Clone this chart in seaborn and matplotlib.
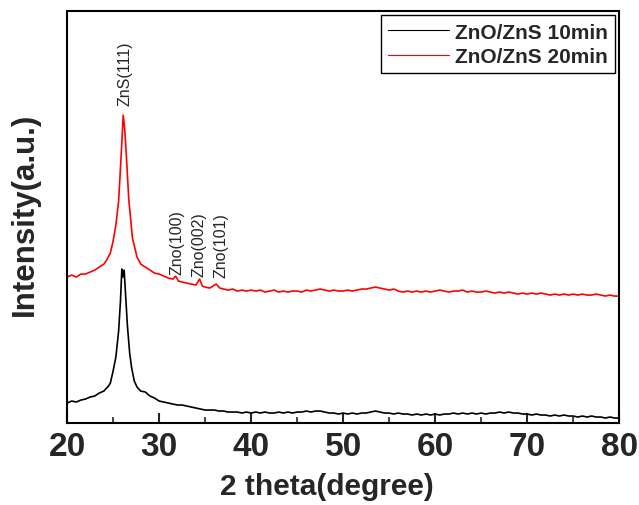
import numpy as np
import pandas as pd
import matplotlib
matplotlib.use("Agg")
import matplotlib.pyplot as plt
import seaborn as sns
from matplotlib.ticker import MultipleLocator

# ---------------- data ----------------
series_names = ["ZnO/ZnS 10min", "ZnO/ZnS 20min"]
series_colors = ["black", "red"]

tail_theta = [40, 40.5, 41, 41.5, 42, 42.5, 43, 43.5, 44, 44.5, 45, 45.5, 46, 46.5, 47, 47.5,
              48, 48.5, 49, 49.5, 50, 50.5, 51, 51.5, 52, 52.5, 53, 53.5, 54, 54.5, 55, 55.5,
              56, 56.5, 57, 57.5, 58, 58.5, 59, 59.5, 60, 60.5, 61, 61.5, 62, 62.5, 63, 63.5,
              64, 64.5, 65, 65.5, 66, 66.5, 67, 67.5, 68, 68.5, 69, 69.5, 70, 70.5, 71, 71.5,
              72, 72.5, 73, 73.5, 74, 74.5, 75, 75.5, 76, 76.5, 77, 77.5, 78, 78.5, 79, 79.5, 80]

theta_10 = [20, 20.5, 21, 21.5, 22, 22.5, 23, 23.5, 24, 24.5, 24.7, 25.0, 25.3, 25.6, 25.8,
            25.95, 26.05, 26.2, 26.35, 26.55, 26.8, 27.0, 27.3, 27.6,
            28, 28.5, 29, 29.5, 30, 30.5, 31, 31.5, 32, 32.5, 33, 33.5, 34, 34.5, 35, 35.5,
            36, 36.5, 37, 37.5, 38, 38.5, 39, 39.5] + tail_theta
int_10 = [20, 22, 21, 23, 24, 26, 27, 30, 32, 37, 40, 52, 66, 92, 122,
          154, 146, 153, 130, 98, 70, 56, 42, 36,
          32, 31, 27, 25, 22, 21, 20, 19, 18, 18, 17, 16, 15, 14, 13, 13,
          13, 12, 12, 11, 11, 11, 10, 11,
          10, 11, 10, 11, 10, 10, 11, 10, 11, 10, 11, 11, 12, 11, 12, 12,
          11, 10, 10, 9, 10, 9, 10, 9, 10, 10, 11, 12, 11, 10, 10, 9,
          10, 9, 9, 8, 9, 8, 9, 8, 9, 8, 9, 9, 10, 9, 10, 9,
          10, 9, 10, 9, 10, 10, 11, 10, 11, 10, 10, 9, 9, 8, 9, 8,
          8, 7, 8, 7, 8, 7, 7, 6, 7, 6, 7, 6, 6, 5, 6, 5, 5]

theta_20 = [20, 20.5, 21, 21.5, 22, 22.5, 23, 23.5, 24, 24.3, 24.7, 25.0, 25.3, 25.6, 25.9,
            26.1, 26.25, 26.4, 26.7, 27.1, 27.6,
            28, 28.5, 29, 29.5, 30, 30.5, 31, 31.5, 31.8, 32.1, 32.5, 33, 33.5, 34, 34.4,
            34.7, 35, 35.5, 36.2, 36.6, 37, 37.5, 38, 38.5, 39, 39.5] + tail_theta
int_20 = [146, 148, 146, 149, 149, 151, 153, 156, 159, 163, 170, 182, 198, 222, 272,
          308, 295, 274, 224, 185, 166,
          159, 156, 153, 150, 149, 147, 145, 144, 147, 142, 141, 140, 139, 138, 144,
          137, 136, 135, 139, 135, 134, 133, 134, 132, 133, 132,
          133, 132, 133, 131, 132, 133, 131, 132, 131, 132, 132, 131, 133, 132, 133, 134,
          133, 132, 133, 132, 132, 133, 132, 133, 134, 134, 135, 136, 135, 134, 133, 134,
          132, 131, 132, 131, 132, 131, 132, 131, 132, 133, 132, 131, 132, 132, 133, 131,
          132, 131, 131, 132, 131, 130, 131, 130, 131, 130, 129, 130, 129, 130, 129, 130,
          129, 128, 129, 128, 129, 128, 129, 128, 129, 128, 128, 129, 128, 127, 128, 127, 127]

peak_labels = ["ZnS(111)", "Zno(100)", "Zno(002)", "Zno(101)"]
peak_theta = [26.3, 31.9, 34.3, 36.7]
peak_label_base = [318, 149, 147, 146]

x_ticks = [20, 30, 40, 50, 60, 70, 80]

# ---------------- build long table ----------------
df = pd.concat([
    pd.DataFrame({"theta": theta_10, "intensity": int_10, "series": series_names[0]}),
    pd.DataFrame({"theta": theta_20, "intensity": int_20, "series": series_names[1]}),
], ignore_index=True)

# ---------------- plot ----------------
sns.set_style("ticks")
plt.rcParams["font.family"] = ["Liberation Sans", "DejaVu Sans"]

fig = plt.figure(figsize=(6.39, 5.06), dpi=100)
ax = fig.add_axes([0.105, 0.162, 0.864, 0.814])

sns.lineplot(data=df, x="theta", y="intensity", hue="series",
             palette=dict(zip(series_names, series_colors)),
             sort=False, estimator=None, linewidth=1.2, ax=ax)

ax.set_xlim(20, 80)
ax.set_ylim(0, 412)
ax.set_yticks([])
ax.xaxis.set_major_locator(MultipleLocator(10))
ax.xaxis.set_minor_locator(MultipleLocator(5))
ax.set_xticks(x_ticks)
ax.tick_params(axis="x", which="major", direction="in", length=7, width=1.5,
               labelsize=24, pad=6)
ax.tick_params(axis="x", which="minor", direction="in", length=4, width=1.2)
for lab in ax.get_xticklabels():
    lab.set_fontweight("bold")

for sp in ax.spines.values():
    sp.set_visible(True)
    sp.set_linewidth(1.5)
    sp.set_color("black")

ax.set_xlabel("2 theta(degree)", fontsize=21.5, fontweight="bold")
ax.xaxis.set_label_coords(0.471, -0.12)
ax.set_ylabel("Intensity(a.u.)", fontsize=22.5, fontweight="bold")
ax.yaxis.set_label_coords(-0.05, 0.51)

for lab, th, base in zip(peak_labels, peak_theta, peak_label_base):
    ax.text(th, base, lab, rotation=90, ha="center", va="bottom", fontsize=11.5)

leg = ax.legend(loc="upper right", fontsize=15, frameon=True, fancybox=False,
                edgecolor="black", framealpha=1, borderaxespad=0.2,
                handlelength=2.9, handletextpad=0.3, borderpad=0.35, labelspacing=0.25)
leg.get_frame().set_linewidth(1.0)
for t in leg.get_texts():
    t.set_fontweight("bold")
for l in leg.get_lines():
    l.set_linewidth(0.8)

fig.savefig("out.png", dpi=100)
